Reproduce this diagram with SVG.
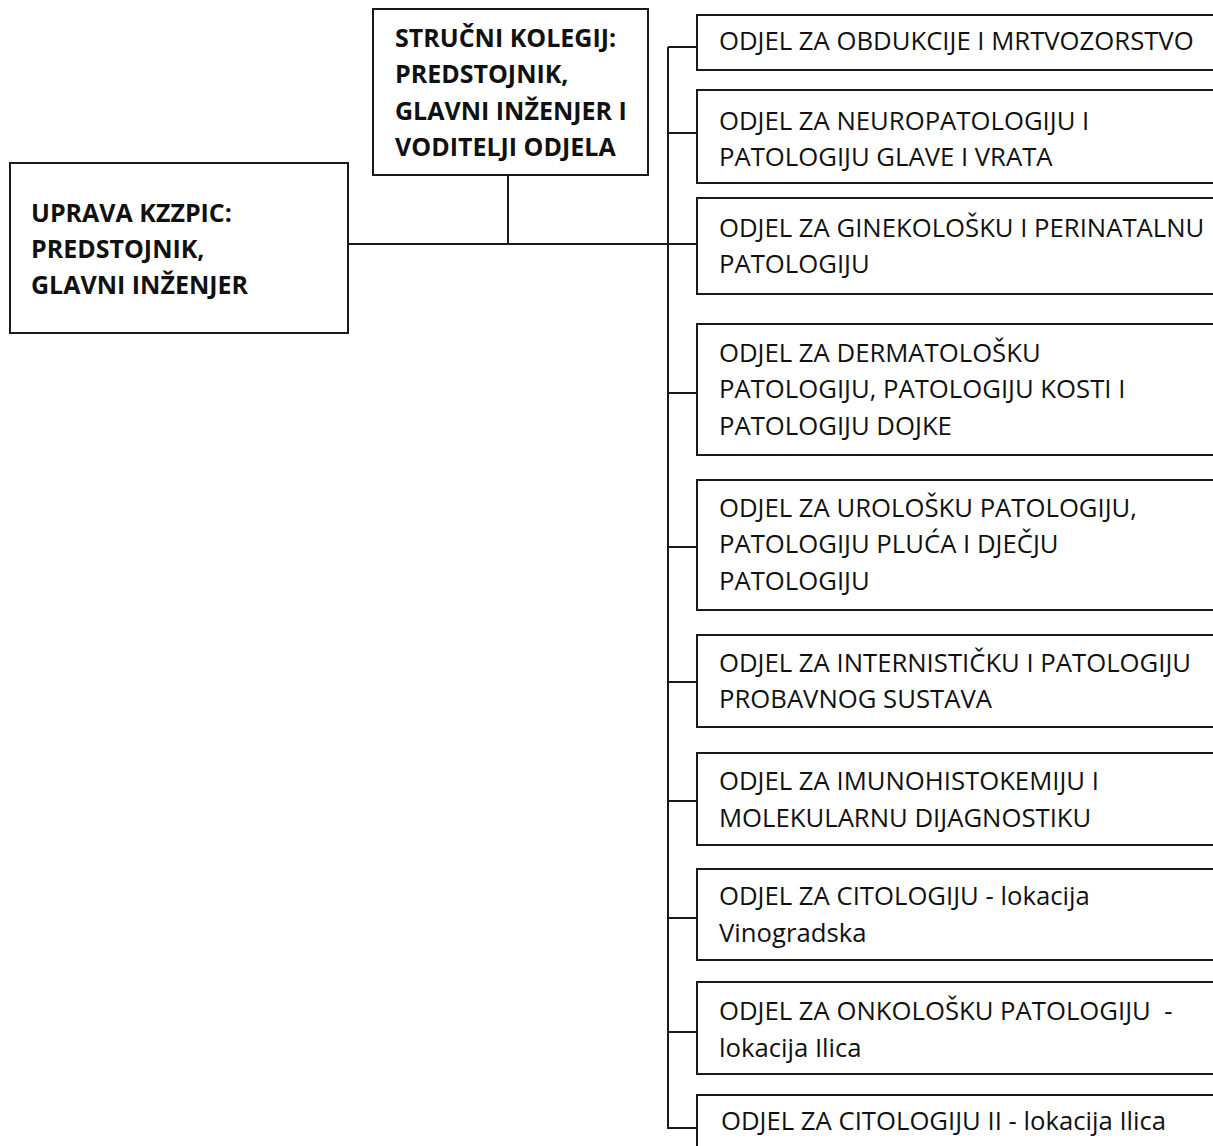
<svg xmlns="http://www.w3.org/2000/svg" width="1213" height="1146" viewBox="0 0 1213 1146">
<style>
.box{fill:#fff;stroke:#1a1a1a;stroke-width:2}
.b{font-family:"Open Sans","Noto Sans",sans-serif;font-weight:bold;font-size:25px;fill:#111}
.t{font-family:"Open Sans","Noto Sans",sans-serif;font-size:25.7px;fill:#111}
.c{fill:none;stroke:#1a1a1a;stroke-width:2}
</style>
<rect width="1213" height="1146" fill="#fff"/>
<g id="connectors">
<path class="c" d="M348 244H697M508 175V244M668 47V1128H697"/>
<path class="c" d="M668 47H697M668 133H697M668 393H697M668 547H697M668 682H697M668 801H697M668 918H697M668 1032H697"/>
</g>
<g id="uprava">
<rect class="box" x="10" y="163" width="338" height="170"/>
<text class="b"><tspan x="31" y="222">UPRAVA KZZPIC:</tspan><tspan x="31" y="258">PREDSTOJNIK,</tspan><tspan x="31" y="294">GLAVNI INŽENJER</tspan></text>
</g>
<g id="kolegij">
<rect class="box" x="373" y="9" width="275" height="166"/>
<text class="b"><tspan x="395" y="47">STRUČNI KOLEGIJ:</tspan><tspan x="395" y="83">PREDSTOJNIK,</tspan><tspan x="395" y="120">GLAVNI INŽENJER I</tspan><tspan x="395" y="156">VODITELJI ODJELA</tspan></text>
</g>
<g id="odjel1">
<rect class="box" x="697" y="15" width="560" height="55"/>
<text class="t"><tspan x="719" y="50">ODJEL ZA OBDUKCIJE I MRTVOZORSTVO</tspan></text>
</g>
<g id="odjel2">
<rect class="box" x="697" y="90" width="560" height="93"/>
<text class="t"><tspan x="719" y="130">ODJEL ZA NEUROPATOLOGIJU I</tspan><tspan x="719" y="166">PATOLOGIJU GLAVE I VRATA</tspan></text>
</g>
<g id="odjel3">
<rect class="box" x="697" y="198" width="560" height="96"/>
<text class="t"><tspan x="719" y="237">ODJEL ZA GINEKOLOŠKU I PERINATALNU</tspan><tspan x="719" y="273">PATOLOGIJU</tspan></text>
</g>
<g id="odjel4">
<rect class="box" x="697" y="324" width="560" height="131"/>
<text class="t"><tspan x="719" y="362">ODJEL ZA DERMATOLOŠKU</tspan><tspan x="719" y="398">PATOLOGIJU, PATOLOGIJU KOSTI I</tspan><tspan x="719" y="435">PATOLOGIJU DOJKE</tspan></text>
</g>
<g id="odjel5">
<rect class="box" x="697" y="480" width="560" height="130"/>
<text class="t"><tspan x="719" y="517">ODJEL ZA UROLOŠKU PATOLOGIJU,</tspan><tspan x="719" y="553">PATOLOGIJU PLUĆA I DJEČJU</tspan><tspan x="719" y="590">PATOLOGIJU</tspan></text>
</g>
<g id="odjel6">
<rect class="box" x="697" y="635" width="560" height="92"/>
<text class="t"><tspan x="719" y="672">ODJEL ZA INTERNISTIČKU I PATOLOGIJU</tspan><tspan x="719" y="708">PROBAVNOG SUSTAVA</tspan></text>
</g>
<g id="odjel7">
<rect class="box" x="697" y="753" width="560" height="92"/>
<text class="t"><tspan x="719" y="790">ODJEL ZA IMUNOHISTOKEMIJU I</tspan><tspan x="719" y="827">MOLEKULARNU DIJAGNOSTIKU</tspan></text>
</g>
<g id="odjel8">
<rect class="box" x="697" y="869" width="560" height="91"/>
<text class="t"><tspan x="719" y="905">ODJEL ZA CITOLOGIJU - lokacija</tspan><tspan x="719" y="942">Vinogradska</tspan></text>
</g>
<g id="odjel9">
<rect class="box" x="697" y="982" width="560" height="92"/>
<text class="t" xml:space="preserve"><tspan x="719" y="1020">ODJEL ZA ONKOLOŠKU PATOLOGIJU  -</tspan><tspan x="719" y="1057">lokacija Ilica</tspan></text>
</g>
<g id="odjel10">
<rect class="box" x="697" y="1095" width="560" height="80"/>
<text class="t"><tspan x="721" y="1130">ODJEL ZA CITOLOGIJU II - lokacija Ilica</tspan></text>
</g>
</svg>
